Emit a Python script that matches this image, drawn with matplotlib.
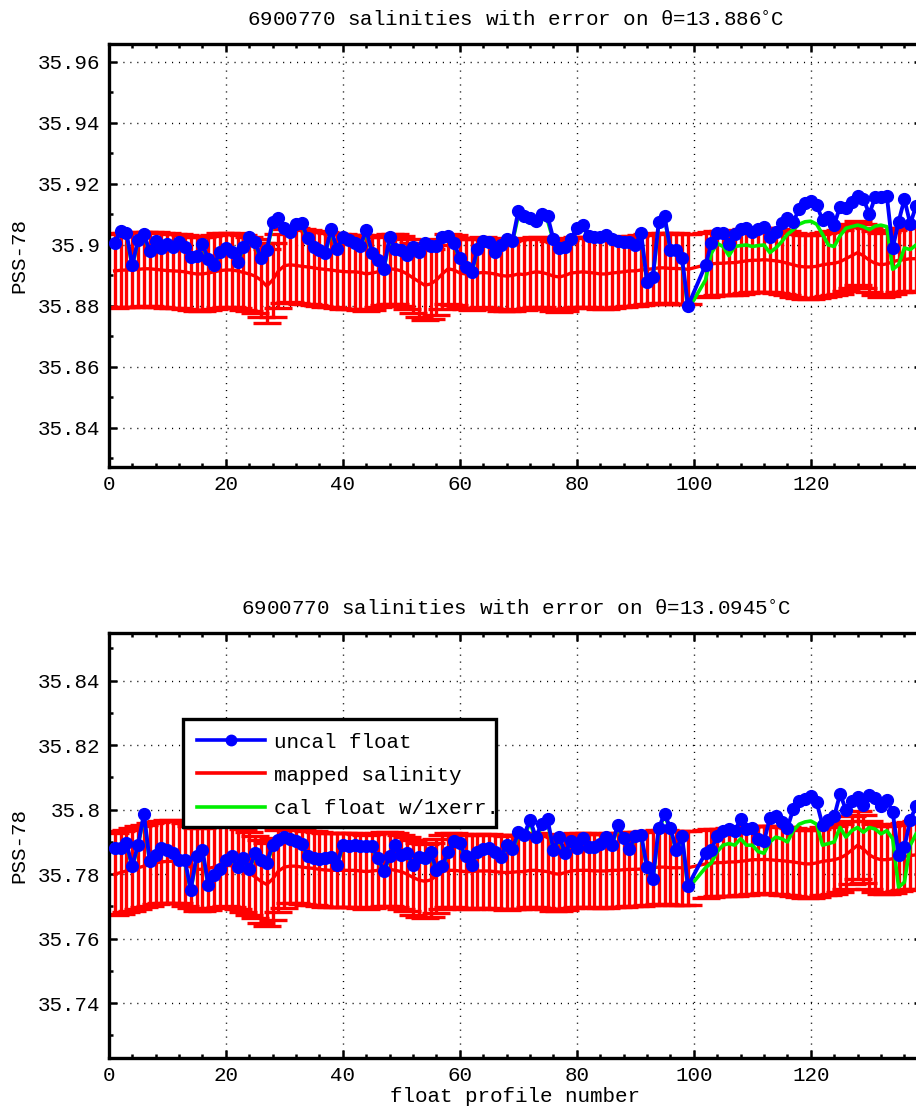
import matplotlib
matplotlib.use("Agg")
import matplotlib.pyplot as plt
from matplotlib.ticker import MultipleLocator, FuncFormatter
from matplotlib.lines import Line2D
from matplotlib.patches import Rectangle

plt.rcParams['font.family'] = ['Liberation Mono', 'DejaVu Sans']
FS = 15

# profile numbers (100 and 101 missing)
profiles = list(range(1, 100)) + list(range(102, 139))

# ---------------- top panel (theta = 13.886) ----------------
top_uncal = [
    35.9008, 35.9047, 35.9040, 35.8934, 35.9016, 35.9035, 35.8980, 35.9014, 35.8990, 35.9003,
    35.8994, 35.9009, 35.8995, 35.8960, 35.8964, 35.9003, 35.8954, 35.8934, 35.8978, 35.8990,
    35.8978, 35.8945, 35.8994, 35.9027, 35.9010, 35.8956, 35.8984, 35.9076, 35.9087, 35.9055,
    35.9044, 35.9069, 35.9071, 35.9022, 35.8995, 35.8984, 35.8975, 35.9052, 35.8986, 35.9025,
    35.9016, 35.9008, 35.8998, 35.9049, 35.8975, 35.8951, 35.8922, 35.9025, 35.8986, 35.8984,
    35.8967, 35.8995, 35.8978, 35.9005, 35.8997, 35.8997, 35.9027, 35.9030, 35.9008, 35.8956,
    35.8927, 35.8910, 35.8986, 35.9014, 35.9010, 35.8978, 35.9000, 35.9019, 35.9014, 35.9111,
    35.9095, 35.9087, 35.9080, 35.9100, 35.9095, 35.9019, 35.8990, 35.8995, 35.9019, 35.9057,
    35.9066, 35.9030, 35.9027, 35.9025, 35.9033, 35.9019, 35.9014, 35.9010, 35.9010, 35.9000,
    35.9038, 35.8880, 35.8896, 35.9074, 35.9095, 35.8984, 35.8984, 35.8956, 35.8800,
    35.8934, 35.9005, 35.9038, 35.9040, 35.9003, 35.9036, 35.9051, 35.9055, 35.9044, 35.9051,
    35.9058, 35.9027, 35.9044, 35.9071, 35.9090, 35.9076, 35.9117, 35.9137, 35.9145, 35.9131,
    35.9082, 35.9091, 35.9066, 35.9126, 35.9120, 35.9142, 35.9161, 35.9150, 35.9102, 35.9156,
    35.9158, 35.9161, 35.8989, 35.9076, 35.9150, 35.9069, 35.9128]

top_cal = [
    35.9003, 35.9042, 35.9035, 35.8929, 35.9011, 35.9030, 35.8975, 35.9009, 35.8985, 35.8998,
    35.8989, 35.9004, 35.8990, 35.8955, 35.8959, 35.8998, 35.8949, 35.8929, 35.8973, 35.8985,
    35.8973, 35.8940, 35.8989, 35.9022, 35.9005, 35.8951, 35.8979, 35.9066, 35.9077, 35.9050,
    35.9039, 35.9064, 35.9066, 35.9017, 35.8990, 35.8979, 35.8970, 35.9047, 35.8981, 35.9020,
    35.9011, 35.9003, 35.8993, 35.9044, 35.8970, 35.8946, 35.8917, 35.9020, 35.8981, 35.8979,
    35.8962, 35.8990, 35.8973, 35.9000, 35.8992, 35.8992, 35.9022, 35.9025, 35.9003, 35.8951,
    35.8922, 35.8905, 35.8981, 35.9009, 35.9005, 35.8973, 35.8995, 35.9014, 35.9009, 35.9096,
    35.9080, 35.9072, 35.9065, 35.9085, 35.9080, 35.9014, 35.8985, 35.8990, 35.9014, 35.9052,
    35.9061, 35.9025, 35.9022, 35.9020, 35.9028, 35.9014, 35.9009, 35.9005, 35.9005, 35.8995,
    35.9033, 35.8875, 35.8891, 35.9069, 35.9090, 35.8979, 35.8979, 35.8951, 35.8787,
    35.8885, 35.8973, 35.9005, 35.8995, 35.8965, 35.8995, 35.8998, 35.9000, 35.8995, 35.8998,
    35.9000, 35.8975, 35.8990, 35.9010, 35.9035, 35.9050, 35.9068, 35.9076, 35.9078, 35.9068,
    35.9035, 35.9000, 35.8995, 35.9030, 35.9055, 35.9060, 35.9065, 35.9060, 35.9050, 35.9062,
    35.9065, 35.9060, 35.8920, 35.8935, 35.8990, 35.8985, 35.9000]

top_mapped = [
    35.8915, 35.8917, 35.8918, 35.8918, 35.8920, 35.8922, 35.8922, 35.8920, 35.8918, 35.8916,
    35.8915, 35.8914, 35.8912, 35.8908, 35.8905, 35.8905, 35.8908, 35.8912, 35.8916, 35.8918,
    35.8918, 35.8915, 35.8910, 35.8905, 35.8898, 35.8885, 35.8865, 35.8885, 35.8915, 35.8932,
    35.8935, 35.8933, 35.8930, 35.8928, 35.8925, 35.8922, 35.8920, 35.8918, 35.8915, 35.8913,
    35.8912, 35.8912, 35.8910, 35.8905, 35.8908, 35.8912, 35.8918, 35.8922, 35.8920, 35.8915,
    35.8905, 35.8892, 35.8880, 35.8868, 35.8872, 35.8885, 35.8905, 35.8922, 35.8918, 35.8908,
    35.8905, 35.8903, 35.8908, 35.8910, 35.8908, 35.8905, 35.8900, 35.8898, 35.8900, 35.8905,
    35.8903, 35.8908, 35.8912, 35.8910, 35.8905, 35.8898, 35.8895, 35.8900, 35.8908, 35.8910,
    35.8912, 35.8910, 35.8908, 35.8905, 35.8905, 35.8908, 35.8910, 35.8912, 35.8915, 35.8915,
    35.8918, 35.8920, 35.8922, 35.8925, 35.8925, 35.8923, 35.8923, 35.8922, 35.8920,
    35.8935, 35.8938, 35.8940, 35.8940, 35.8942, 35.8942, 35.8945, 35.8948, 35.8950, 35.8950,
    35.8952, 35.8950, 35.8948, 35.8945, 35.8940, 35.8935, 35.8930, 35.8928, 35.8928, 35.8930,
    35.8935, 35.8938, 35.8940, 35.8945, 35.8955, 35.8965, 35.8975, 35.8965, 35.8950, 35.8940,
    35.8935, 35.8938, 35.8945, 35.8950, 35.8952, 35.8955, 35.8955]

top_err = [0.0122] * 45 + [0.0115] * 54 + [0.0105] * 37

# ---------------- bottom panel (theta = 13.0945) ----------------
bot_uncal = [
    35.7881, 35.7881, 35.7897, 35.7826, 35.7891, 35.7987, 35.7840, 35.7860, 35.7881, 35.7876,
    35.7867, 35.7845, 35.7845, 35.7752, 35.7855, 35.7876, 35.7767, 35.7798, 35.7816, 35.7845,
    35.7855, 35.7822, 35.7850, 35.7816, 35.7866, 35.7843, 35.7836, 35.7891, 35.7907, 35.7915,
    35.7909, 35.7902, 35.7894, 35.7857, 35.7850, 35.7847, 35.7850, 35.7853, 35.7829, 35.7891,
    35.7886, 35.7891, 35.7888, 35.7886, 35.7886, 35.7850, 35.7811, 35.7855, 35.7891, 35.7860,
    35.7866, 35.7829, 35.7853, 35.7850, 35.7870, 35.7814, 35.7826, 35.7870, 35.7902, 35.7897,
    35.7855, 35.7829, 35.7870, 35.7878, 35.7881, 35.7870, 35.7853, 35.7891, 35.7878, 35.7930,
    35.7922, 35.7969, 35.7915, 35.7957, 35.7971, 35.7876, 35.7915, 35.7867, 35.7902, 35.7881,
    35.7912, 35.7884, 35.7884, 35.7894, 35.7915, 35.7891, 35.7953, 35.7912, 35.7878, 35.7919,
    35.7922, 35.7822, 35.7785, 35.7943, 35.7987, 35.7943, 35.7876, 35.7917, 35.7764,
    35.7866, 35.7876, 35.7919, 35.7933, 35.7940, 35.7933, 35.7971, 35.7940, 35.7943, 35.7909,
    35.7902, 35.7974, 35.7979, 35.7961, 35.7943, 35.8002, 35.8026, 35.8033, 35.8041, 35.8023,
    35.7953, 35.7969, 35.7979, 35.8049, 35.8000, 35.8026, 35.8039, 35.8016, 35.8047, 35.8036,
    35.8012, 35.8029, 35.7992, 35.7860, 35.7884, 35.7969, 35.8010]

bot_cal = [
    35.7876, 35.7876, 35.7892, 35.7821, 35.7886, 35.7982, 35.7835, 35.7855, 35.7876, 35.7871,
    35.7862, 35.7840, 35.7840, 35.7747, 35.7850, 35.7871, 35.7762, 35.7793, 35.7811, 35.7840,
    35.7850, 35.7817, 35.7845, 35.7811, 35.7861, 35.7838, 35.7831, 35.7884, 35.7900, 35.7910,
    35.7904, 35.7897, 35.7889, 35.7852, 35.7845, 35.7842, 35.7845, 35.7848, 35.7824, 35.7886,
    35.7881, 35.7886, 35.7883, 35.7881, 35.7881, 35.7845, 35.7806, 35.7850, 35.7886, 35.7855,
    35.7861, 35.7824, 35.7848, 35.7845, 35.7865, 35.7809, 35.7821, 35.7865, 35.7897, 35.7892,
    35.7850, 35.7824, 35.7865, 35.7873, 35.7876, 35.7865, 35.7848, 35.7886, 35.7873, 35.7922,
    35.7914, 35.7961, 35.7907, 35.7949, 35.7963, 35.7871, 35.7910, 35.7862, 35.7897, 35.7876,
    35.7907, 35.7879, 35.7879, 35.7889, 35.7910, 35.7886, 35.7948, 35.7907, 35.7873, 35.7914,
    35.7917, 35.7817, 35.7780, 35.7938, 35.7982, 35.7938, 35.7871, 35.7912, 35.7755,
    35.7820, 35.7835, 35.7870, 35.7890, 35.7895, 35.7890, 35.7910, 35.7890, 35.7890, 35.7870,
    35.7865, 35.7900, 35.7915, 35.7910, 35.7900, 35.7935, 35.7955, 35.7962, 35.7965, 35.7955,
    35.7890, 35.7895, 35.7900, 35.7945, 35.7915, 35.7935, 35.7945, 35.7930, 35.7945, 35.7940,
    35.7925, 35.7935, 35.7910, 35.7760, 35.7775, 35.7890, 35.7925]

bot_mapped = [
    35.7800, 35.7805, 35.7810, 35.7815, 35.7820, 35.7825, 35.7830, 35.7835, 35.7838, 35.7840,
    35.7840, 35.7838, 35.7830, 35.7822, 35.7815, 35.7815, 35.7818, 35.7822, 35.7826, 35.7828,
    35.7826, 35.7820, 35.7812, 35.7803, 35.7792, 35.7778, 35.7768, 35.7785, 35.7810, 35.7822,
    35.7825, 35.7825, 35.7822, 35.7820, 35.7818, 35.7815, 35.7813, 35.7812, 35.7812, 35.7812,
    35.7812, 35.7812, 35.7810, 35.7808, 35.7810, 35.7812, 35.7815, 35.7815, 35.7812, 35.7808,
    35.7800, 35.7790, 35.7782, 35.7778, 35.7782, 35.7795, 35.7808, 35.7812, 35.7812, 35.7810,
    35.7808, 35.7808, 35.7810, 35.7810, 35.7810, 35.7808, 35.7806, 35.7805, 35.7806, 35.7808,
    35.7808, 35.7812, 35.7812, 35.7810, 35.7808, 35.7802, 35.7800, 35.7805, 35.7810, 35.7812,
    35.7812, 35.7812, 35.7810, 35.7810, 35.7810, 35.7812, 35.7812, 35.7814, 35.7815, 35.7815,
    35.7816, 35.7818, 35.7820, 35.7822, 35.7822, 35.7820, 35.7820, 35.7820, 35.7820,
    35.7832, 35.7834, 35.7836, 35.7836, 35.7838, 35.7838, 35.7840, 35.7842, 35.7845, 35.7845,
    35.7846, 35.7845, 35.7843, 35.7842, 35.7840, 35.7838, 35.7835, 35.7832, 35.7832, 35.7835,
    35.7840, 35.7842, 35.7845, 35.7850, 35.7860, 35.7875, 35.7890, 35.7878, 35.7860, 35.7850,
    35.7845, 35.7845, 35.7848, 35.7852, 35.7855, 35.7858, 35.7860]

bot_err = [0.0128] * 30 + [0.0115] * 69 + [0.0105] * 37

titles = ["6900770 salinities with error on \u03b8=13.886$^{\\circ}$C",
          "6900770 salinities with error on \u03b8=13.0945$^{\\circ}$C"]
ylims = [(35.8272, 35.9659), (35.7230, 35.8548)]
legend_labels = ["uncal float", "mapped salinity", "cal float w/1xerr."]

W, H = 916, 1108
fig = plt.figure(figsize=(W / 100, H / 100), dpi=100)
x0 = 108.8
xmax = 139
pxu = 5.85
ax_w = xmax * pxu
ax_top = fig.add_axes([x0 / W, (H - 467) / H, ax_w / W, 423 / H])
ax_bot = fig.add_axes([x0 / W, (H - 1058) / H, ax_w / W, 425 / H])

panels = [(ax_top, top_uncal, top_mapped, top_err, top_cal),
          (ax_bot, bot_uncal, bot_mapped, bot_err, bot_cal)]

for k, (ax, unc, mp, er, cal) in enumerate(panels):
    ax.errorbar(profiles, mp, yerr=er, color='red', lw=2.4, elinewidth=2.4,
                capsize=10, capthick=2.4, zorder=2)
    ax.plot(profiles, cal, color='#00ee00', lw=2.6, zorder=3)
    ax.plot(profiles, unc, color='blue', lw=2.8, marker='o', ms=8.5,
            markeredgecolor='blue', markerfacecolor='blue', zorder=4)
    ax.set_xlim(0, xmax)
    ax.set_ylim(*ylims[k])
    ax.xaxis.set_major_locator(MultipleLocator(20))
    ax.xaxis.set_minor_locator(MultipleLocator(4))
    ax.yaxis.set_major_locator(MultipleLocator(0.02))
    ax.yaxis.set_minor_locator(MultipleLocator(0.01))
    ax.yaxis.set_major_formatter(FuncFormatter(lambda v, p: "%g" % round(v, 4)))
    ax.tick_params(which='both', direction='in', top=True, right=True,
                   labelsize=FS, width=1.8, color='black')
    ax.tick_params(which='major', length=6, pad=6)
    ax.tick_params(which='minor', length=3)
    ax.grid(True, which='major', color='black', linestyle=(0, (0.8, 4.2)), lw=1.0)
    for s in ax.spines.values():
        s.set_linewidth(2.4)
    ax.set_title(titles[k], fontsize=FS, pad=13)
    ax.set_ylabel("PSS-78", fontsize=FS, labelpad=7)

ax_bot.set_xlabel("float profile number", fontsize=FS, labelpad=1)

# legend: box drawn as a frame patch (text reaches the right border as in the original)
bx0 = (183 - x0) / ax_w
bx1 = (496 - x0) / ax_w
by0 = (1058 - 827) / 425
by1 = (1058 - 719) / 425
frame = Rectangle((bx0, by0), bx1 - bx0, by1 - by0, transform=ax_bot.transAxes,
                  facecolor='white', edgecolor='black', lw=2.4, zorder=9)
ax_bot.add_patch(frame)

handles = [Line2D([], [], color='blue', lw=2.6, marker='o', ms=7.5),
           Line2D([], [], color='red', lw=2.6),
           Line2D([], [], color='#00ee00', lw=2.6)]
leg = ax_bot.legend(handles, legend_labels, loc='upper left',
                    bbox_to_anchor=(bx0, by1),
                    borderaxespad=0, fontsize=FS, frameon=False,
                    handlelength=3.3, handletextpad=0.4,
                    borderpad=0.65, labelspacing=0.68)
leg.set_zorder(10)

fig.savefig("out.png", dpi=100)
